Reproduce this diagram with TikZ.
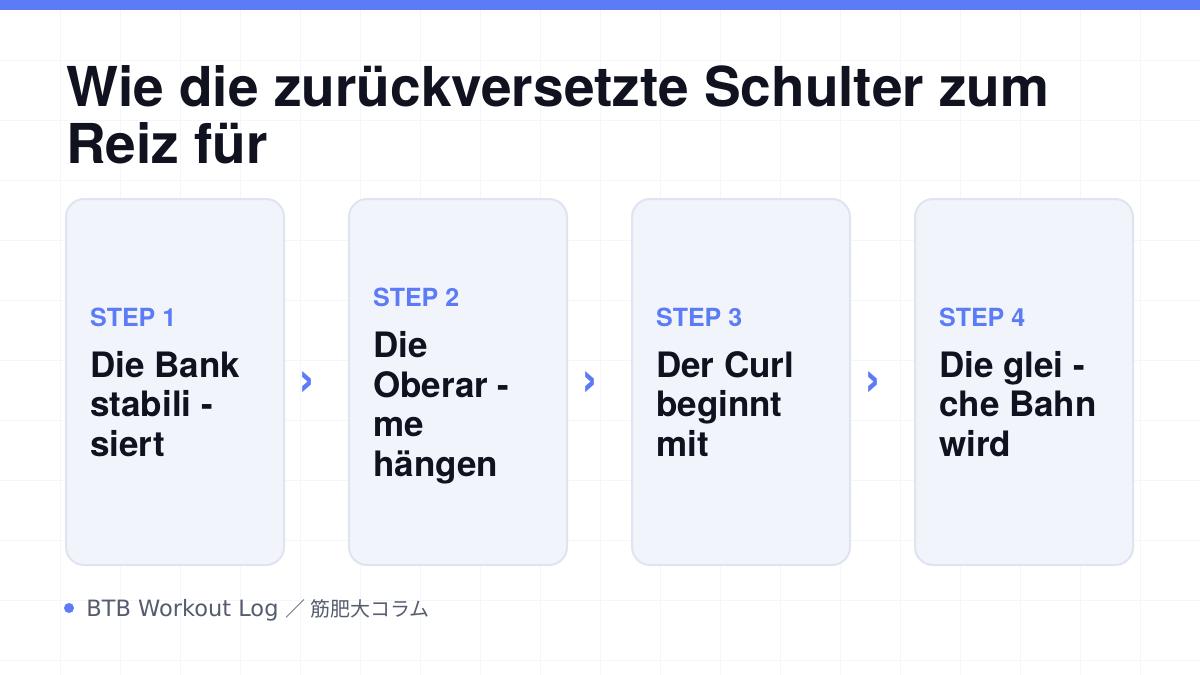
\documentclass[tikz,border=0pt]{standalone}
\usepackage{fontspec}
\setmainfont{TeX Gyre Heros}
\newfontfamily\footfont{DejaVu Sans}
\newfontfamily\cjkfont{Noto Sans CJK JP}
\usetikzlibrary{positioning,calc}

\definecolor{accent}{HTML}{5B7CF6}
\definecolor{ink}{HTML}{10131F}
\definecolor{cardfill}{HTML}{F2F4FB}
\definecolor{cardline}{HTML}{E0E4F0}
\definecolor{gridgray}{HTML}{F5F6F9}
\definecolor{footgray}{HTML}{565C6E}

\newcommand{\steptag}[1]{{\color{accent}\fontsize{25}{25}\selectfont STEP #1}}

\begin{document}
\begin{tikzpicture}
[x=1pt, y=-1pt,
node distance=63pt,
gridline/.style={draw=gridgray, line width=1pt},
topbar/.style={fill=accent},
%
titletext/.style={anchor=north west, align=left, inner sep=0pt, text=ink,
  font=\fontsize{55}{57.5}\selectfont\bfseries},
card/.style={shape=rectangle, rounded corners=18pt, draw=cardline, line width=2pt,
  fill=cardfill, minimum width=218pt, minimum height=366pt, inner sep=0pt},
cardtext/.style={anchor=west, align=left, inner sep=0pt, text depth=0pt, text=ink,
  font=\fontsize{35}{39.5}\selectfont\bfseries},
chev/.style={text=accent, inner sep=0pt, font=\fontsize{52}{52}\selectfont\bfseries},
%
footdot/.style={shape=circle, fill=accent, minimum size=10pt, inner sep=0pt},
foottext/.style={anchor=west, inner sep=0pt, text height=16pt, text depth=0pt,
  text=footgray, font=\footfont\fontsize{22.5}{22.5}\selectfont}]

\useasboundingbox (0,0) rectangle (1200,675);
\fill[white] (0,0) rectangle (1200,675);

% background grid
\foreach \gx in {60,120,...,1140}
  \draw[gridline] (\gx,0) -- (\gx,675);
\foreach \gy in {60,120,...,660}
  \draw[gridline] (0,\gy) -- (1200,\gy);

\path[topbar] (0,0) rectangle (1200,10);

\node (title) [titletext] at (66,65) {Wie die zurückversetzte Schulter zum\\Reiz für};

% cards
\node (card1) [card] at (175,382) {};
\node (card2) [card, right=of card1] {};
\node (card3) [card, right=of card2] {};
\node (card4) [card, right=of card3] {};

\node (text1) [cardtext] at ([xshift=25pt]card1.west) {\steptag{1}\\[11.5pt]Die Bank\\stabili -\\siert};
\node (text2) [cardtext] at ([xshift=25pt]card2.west) {\steptag{2}\\[11.5pt]Die\\Oberar -\\me\\hängen};
\node (text3) [cardtext] at ([xshift=25pt]card3.west) {\steptag{3}\\[11.5pt]Der Curl\\beginnt\\mit};
\node (text4) [cardtext] at ([xshift=25pt]card4.west) {\steptag{4}\\[11.5pt]Die glei -\\che Bahn\\wird};

\node (arr1) [chev] at ($(card1.east)!0.5!(card2.west)+(-9,2)$) {›};
\node (arr2) [chev] at ($(card2.east)!0.5!(card3.west)+(-9,2)$) {›};
\node (arr3) [chev] at ($(card3.east)!0.5!(card4.west)+(-9,2)$) {›};

% footer
\node (dot) [footdot] at (69,608) {};
\node (source) [foottext, right=12pt of dot] {BTB Workout Log {\cjkfont\fontsize{20}{20}\selectfont ／ 筋肥大コラム}};

\end{tikzpicture}
\end{document}
